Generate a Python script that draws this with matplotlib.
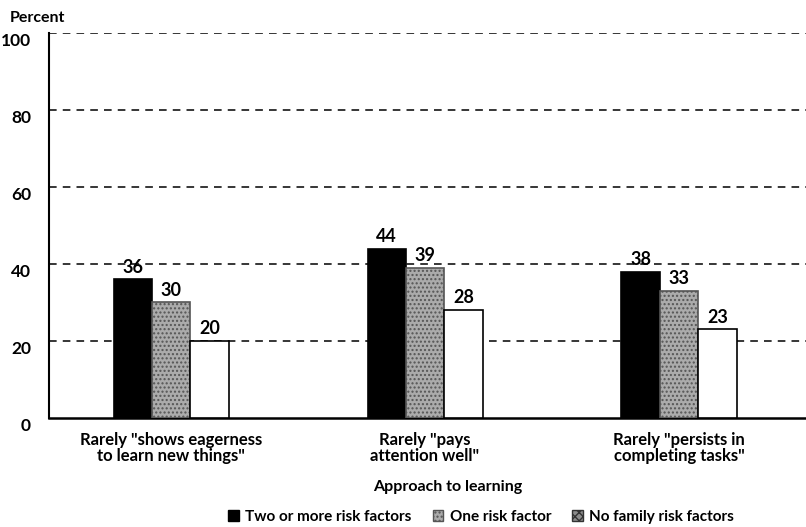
import numpy as np
import matplotlib.pyplot as plt
from matplotlib.patches import Patch

# datos
categorias = ['Rarely "shows eagerness\nto learn new things"',
              'Rarely "pays\nattention well"',
              'Rarely "persists in\ncompleting tasks"']
series = ['Two or more risk factors', 'One risk factor', 'No family risk factors']
dos_o_mas = [36, 44, 38]
uno = [30, 39, 33]
ninguno = [20, 28, 23]

plt.rcParams['font.family'] = ['Lato', 'DejaVu Sans']
plt.rcParams['hatch.color'] = '#666666'

fig = plt.figure(figsize=(8.06, 5.27), dpi=100)
ax = fig.add_axes([0.061, 0.207, 0.939, 0.730])

x = np.arange(len(categorias))
w = 0.151
estilos = [dict(color='black', edgecolor='black'),
           dict(color='#ababab', edgecolor='#555555', hatch='....'),
           dict(color='white', edgecolor='black')]

for k, (vals, st) in enumerate(zip([dos_o_mas, uno, ninguno], estilos)):
    pos = x + (k - 1) * w
    ax.bar(pos, vals, width=w, linewidth=1.2, zorder=3, **st)
    for p, v in zip(pos, vals):
        ax.text(p, v + 1.0, str(v), ha='center', va='bottom',
                fontsize=13, fontweight='bold', zorder=4)

ax.set_xlim(-0.48, 2.5)
ax.set_ylim(0, 100)
ax.set_yticks([0, 20, 40, 60, 80, 100])
ax.set_yticklabels(['0', '20', '40', '60', '80', '100'], fontsize=12.5, fontweight='bold')
for lbl in ax.get_yticklabels():
    lbl.set_va('top')
ax.set_xticks(x)
ax.set_xticklabels(categorias, fontsize=12, fontweight='bold', linespacing=1.0)
ax.tick_params(axis='x', length=0, pad=10)
ax.tick_params(axis='y', length=0, pad=13)

for yy in [20, 40, 60, 80, 100]:
    ax.axhline(yy, color='black', linestyle=(0, (5, 4)), linewidth=1.1, zorder=1)

for s in ['top', 'right']:
    ax.spines[s].set_visible(False)
ax.spines['left'].set_linewidth(1.5)
ax.spines['bottom'].set_linewidth(1.8)

fig.text(0.012, 0.953, 'Percent', fontsize=11.5, fontweight='bold', va='bottom')
fig.text(0.555, 0.068, 'Approach to learning', fontsize=11.5, fontweight='bold', ha='center')

handles = [Patch(facecolor='black', edgecolor='black'),
           Patch(facecolor='#ababab', edgecolor='#555555', hatch='....'),
           Patch(facecolor='#8c8c8c', edgecolor='#333333', hatch='xxxx')]
fig.legend(handles, series, loc='lower center', bbox_to_anchor=(0.597, -0.02), ncol=3,
           frameon=False, handlelength=0.7, handleheight=0.7, handletextpad=0.4,
           columnspacing=1.4, prop={'size': 11, 'weight': 'bold'})

fig.savefig('out.png', dpi=100)
